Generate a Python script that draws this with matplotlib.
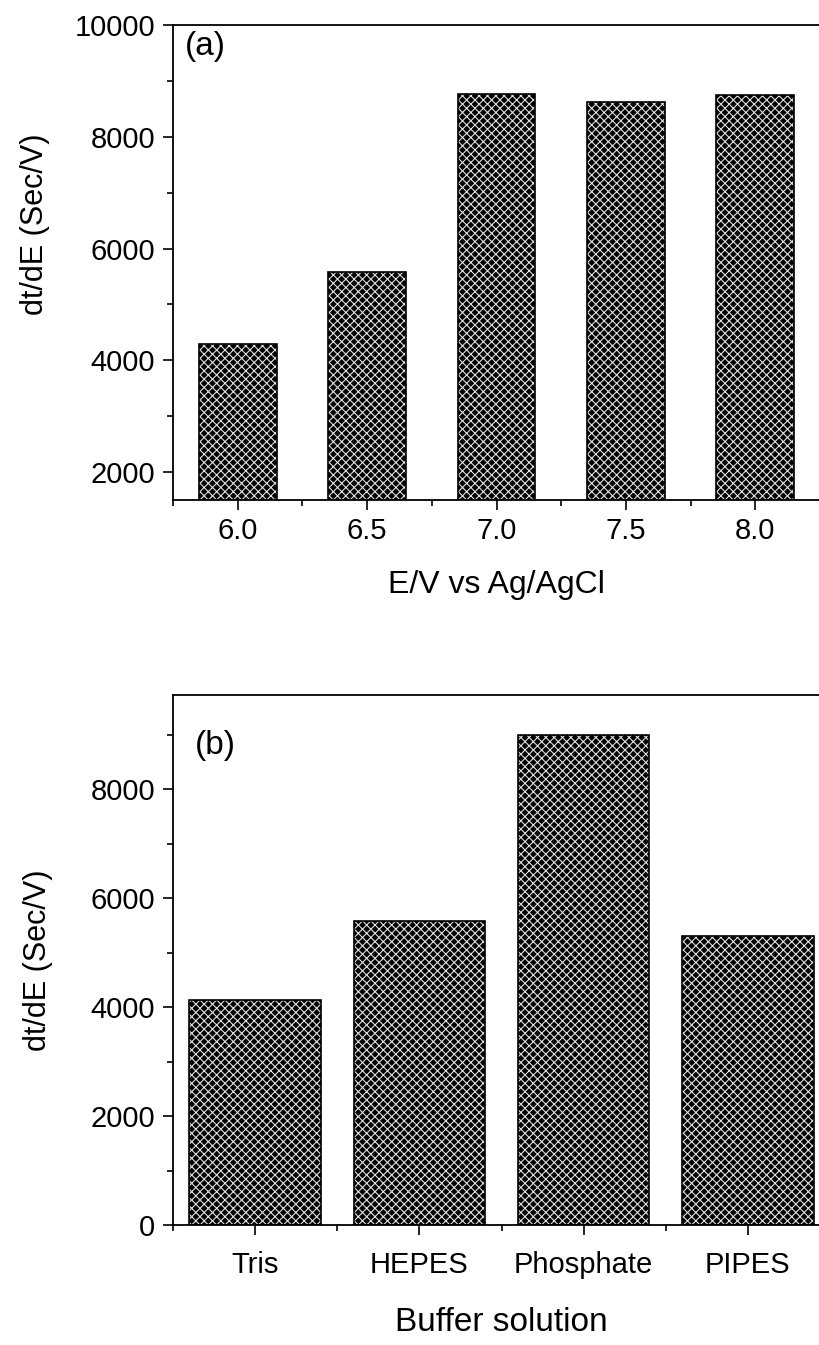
import matplotlib
matplotlib.use("Agg")
import matplotlib.pyplot as plt
from matplotlib.ticker import MultipleLocator

plt.rcParams["font.family"] = ["Liberation Sans", "DejaVu Sans"]
plt.rcParams["hatch.linewidth"] = 0.8

# ---- data -------------------------------------------------------------------
potential = [6.0, 6.5, 7.0, 7.5, 8.0]
dtde_potential = [4300, 5580, 8770, 8630, 8750]

buffers = ["Tris", "HEPES", "Phosphate", "PIPES"]
dtde_buffer = [4130, 5580, 9000, 5300]

W, H = 819, 1345
fig = plt.figure(figsize=(W / 100, H / 100), dpi=100)


def axes_px(x0, y0, x1, y1):
    # pixel box -> figure fraction (axes may run past the right edge)
    return fig.add_axes([x0 / W, 1 - y1 / H, (x1 - x0) / W, (y1 - y0) / H])


def hatched_bars(ax, x, h, width):
    ax.bar(x, h, width=width, color="black", edgecolor="#e0e0e0",
           linewidth=0, hatch="xxxx", zorder=2)
    ax.bar(x, h, width=width, fill=False, edgecolor="black",
           linewidth=1.2, zorder=3)


def style(ax, xpad=5):
    for s in ax.spines.values():
        s.set_linewidth(1.3)
    ax.tick_params(which="major", direction="out", length=7, width=1.2,
                   labelsize=21, pad=6)
    ax.tick_params(axis="x", which="major", pad=xpad)
    ax.tick_params(which="minor", direction="out", length=4, width=1.2)


# ---- (a) --------------------------------------------------------------------
ax1 = axes_px(173, 25, 820, 500)
hatched_bars(ax1, potential, dtde_potential, 0.3)
ax1.set_xlim(5.75, 8.25)
ax1.set_ylim(1500, 10000)
ax1.set_xticks(potential)
ax1.set_xticklabels([f"{v:.1f}" for v in potential])
ax1.xaxis.set_minor_locator(MultipleLocator(0.25))
ax1.yaxis.set_major_locator(MultipleLocator(2000))
ax1.yaxis.set_minor_locator(MultipleLocator(1000))
style(ax1)
ax1.set_xlabel("E/V vs Ag/AgCl", fontsize=23, labelpad=18)
ax1.set_ylabel("dt/dE (Sec/V)", fontsize=22)
ax1.yaxis.set_label_coords(-0.19, 0.58)
ax1.text(0.018, 0.955, "(a)", transform=ax1.transAxes, fontsize=24,
         ha="left", va="center")

# ---- (b) --------------------------------------------------------------------
ax2 = axes_px(173, 695, 830, 1225)
pos = list(range(len(buffers)))
hatched_bars(ax2, pos, dtde_buffer, 0.8)
ax2.set_xlim(-0.5, 3.5)
ax2.set_ylim(0, 9730)
ax2.set_xticks(pos)
ax2.set_xticklabels(buffers)
ax2.xaxis.set_minor_locator(MultipleLocator(0.5))
ax2.yaxis.set_major_locator(MultipleLocator(2000))
ax2.yaxis.set_minor_locator(MultipleLocator(1000))
style(ax2, xpad=12)
ax2.set_xlabel("Buffer solution", fontsize=24, labelpad=20)
ax2.set_ylabel("dt/dE (Sec/V)", fontsize=22)
ax2.yaxis.set_label_coords(-0.183, 0.5)
ax2.text(0.033, 0.905, "(b)", transform=ax2.transAxes, fontsize=24,
         ha="left", va="center")

fig.savefig("out.png", dpi=100)
